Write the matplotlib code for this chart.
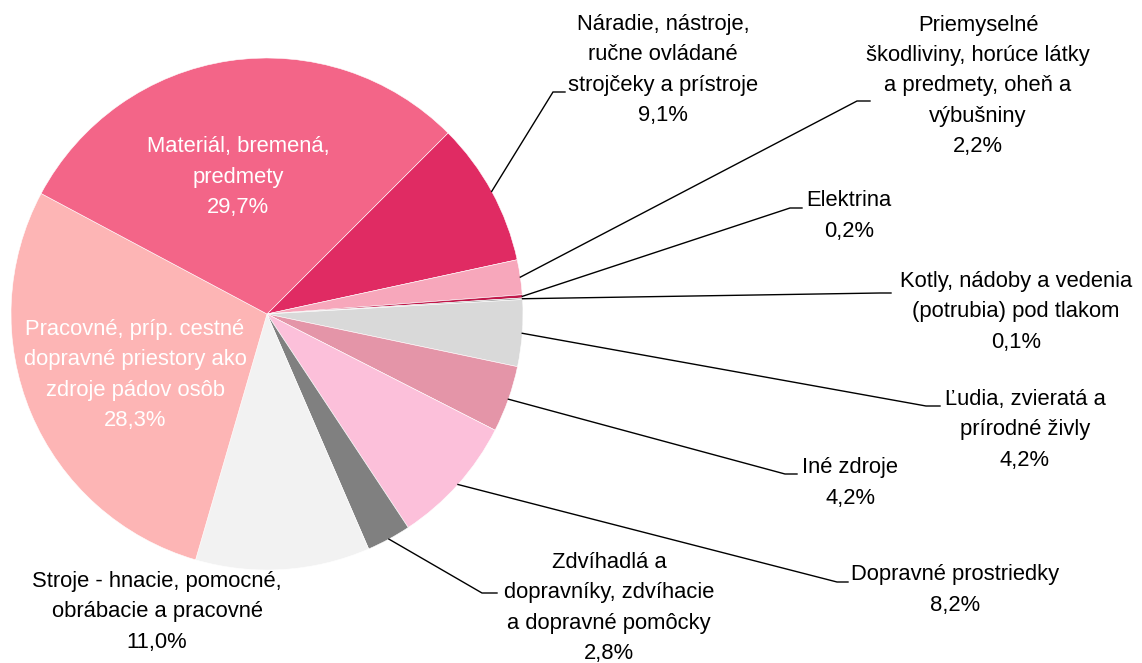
import matplotlib
matplotlib.use("Agg")
import matplotlib.pyplot as plt
from matplotlib import font_manager
import numpy as np

# ---- data ----
categories = [
    "Náradie, nástroje,\nručne ovládané\nstrojčeky a prístroje",
    "Priemyselné\nškodliviny, horúce látky\na predmety, oheň a\nvýbušniny",
    "Elektrina",
    "Kotly, nádoby a vedenia\n(potrubia) pod tlakom",
    "Ľudia, zvieratá a\nprírodné živly",
    "Iné zdroje",
    "Dopravné prostriedky",
    "Zdvíhadlá a\ndopravníky, zdvíhacie\na dopravné pomôcky",
    "Stroje - hnacie, pomocné,\nobrábacie a pracovné",
    "Pracovné, príp. cestné\ndopravné priestory ako\nzdroje pádov osôb",
    "Materiál, bremená,\npredmety",
]
values = [9.1, 2.2, 0.2, 0.1, 4.2, 4.2, 8.2, 2.8, 11.0, 28.3, 29.7]
colors = ["#E02B63", "#F7A7BB", "#C0184A", "#A6A6A6", "#D9D9D9", "#E495A8",
          "#FCC0DA", "#808080", "#F2F2F2", "#FDB5B5", "#F36588"]

# ---- font ----
avail = {f.name for f in font_manager.fontManager.ttflist}
fam = None
for cand in ["Liberation Sans Narrow", "Arial Narrow", "Liberation Sans"]:
    if cand in avail:
        fam = cand
        break
plt.rcParams["font.family"] = [fam, "DejaVu Sans"] if fam else ["DejaVu Sans"]

W, H = 1142, 663
fig = plt.figure(figsize=(W / 100, H / 100), dpi=100)
ax = fig.add_axes([0, 0, 1, 1])

cx, cy, r = 267, H - 314, 256
wedges, _ = ax.pie(values, colors=colors, startangle=45, counterclock=False,
                   center=(cx, cy), radius=r,
                   wedgeprops=dict(edgecolor="white", linewidth=0.4))
ax.set_xlim(0, W)
ax.set_ylim(0, H)
ax.set_aspect("equal")
ax.axis("off")

FS = 15.8
LS = 1.59

def pct(v):
    return f"{v:.1f}".replace(".", ",") + "%"

# layout: (text center x, text center y (px from top), stub end x, stub y, stub start x)
layout = [
    (663, 70, 565, 92, 553),
    (978, 86, 870, 101, 857),
    (849, 216, 802, 208, 790),
    (1016, 312, 891, 293, 880),
    (1025, 430, 940, 406, 926),
    (850, 483, 797, 474, 785),
    (955, 590, 848, 582, 837),
    (609, 608, 497, 593, 482),
    (157, 612, None, None, None),
    (135, 375, None, None, None),
    (238, 177, None, None, None),
]

for i, (w, cat, v) in enumerate(zip(wedges, categories, values)):
    tx, ty, sx, sy, ex = layout[i]
    color = "white" if i in (9, 10) else "black"
    ax.text(tx, H - ty, cat + "\n" + pct(v), ha="center", va="center",
            fontsize=FS, color=color, linespacing=LS)
    if sx is not None:
        mid = np.deg2rad((w.theta1 + w.theta2) / 2)
        px = cx + r * np.cos(mid)
        py = cy + r * np.sin(mid)
        ax.plot([px, ex, sx], [py, H - sy, H - sy], color="black", lw=1.0,
                solid_joinstyle="miter")

fig.savefig("out.png", dpi=100)
